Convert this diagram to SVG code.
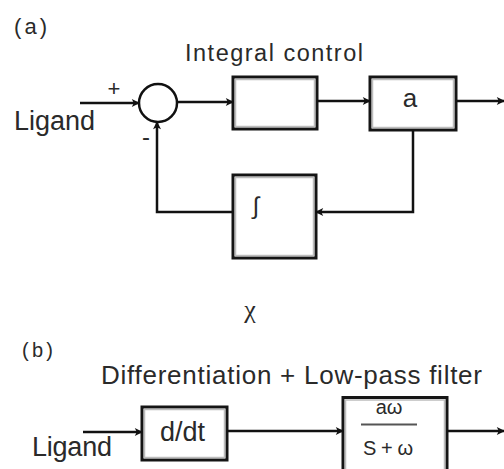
<svg xmlns="http://www.w3.org/2000/svg" width="504" height="469" viewBox="0 0 504 469">
<style>
text{font-family:"Liberation Sans",Arial,sans-serif;fill:#2a2a2a}
.box{fill:#fff;stroke:#151515;stroke-width:3}
.inner{fill:none;stroke:#bdbdbd;stroke-width:1.5}
.ln{fill:none;stroke:#111;stroke-width:2.5}
</style>
<defs>
<marker id="ah" viewBox="0 0 10 10" refX="9" refY="5" markerWidth="9" markerHeight="8" markerUnits="userSpaceOnUse" orient="auto">
<path d="M0,0 L10,5 L0,10 L2.5,5 z" fill="#111"/>
</marker>
</defs>
<rect width="504" height="469" fill="#fff"/>
<text x="14" y="34" font-size="22" textLength="33" lengthAdjust="spacing">(a)</text>
<text x="185" y="61" font-size="23.5" textLength="178" lengthAdjust="spacing">Integral control</text>
<text x="14" y="130" font-size="27" textLength="81" lengthAdjust="spacing">Ligand</text>
<text x="114" y="96" font-size="22" text-anchor="middle">+</text>
<text x="146" y="145" font-size="24" text-anchor="middle">-</text>
<g id="sum"><circle cx="158" cy="103" r="19" fill="#fff" stroke="#111" stroke-width="2.5"/></g>
<g id="box1"><rect class="box" x="233" y="77" width="84" height="52"/><rect class="inner" x="235.5" y="79.5" width="79" height="47"/></g>
<g id="boxa"><rect class="box" x="370" y="77" width="86" height="53"/><rect class="inner" x="372.5" y="79.5" width="81" height="48"/><text x="410" y="107" font-size="26" text-anchor="middle">a</text></g>
<g id="boxint"><rect class="box" x="233" y="175" width="83" height="83"/><rect class="inner" x="235.5" y="177.5" width="78" height="78"/><text x="256" y="214" font-size="24" text-anchor="middle" font-family="DejaVu Sans,sans-serif">∫</text></g>
<text x="250" y="318" font-size="26" text-anchor="middle" style="font-family:'Liberation Serif','Times New Roman',serif">χ</text>
<text x="22" y="357" font-size="20" textLength="31" lengthAdjust="spacing">(b)</text>
<text x="101" y="384" font-size="26" textLength="381" lengthAdjust="spacing">Differentiation + Low-pass filter</text>
<text x="32" y="456" font-size="27" textLength="80" lengthAdjust="spacing">Ligand</text>
<g id="ddt"><rect class="box" x="142" y="407" width="85" height="53"/><rect class="inner" x="144.5" y="409.5" width="80" height="48"/><text x="160" y="441" font-size="27" textLength="45" lengthAdjust="spacing">d/dt</text></g>
<g id="filter"><path d="M343,469 V397.5 H447 V469" fill="#fff" stroke="#151515" stroke-width="3"/><path d="M345.5,469 V400 H444.5 V469" fill="none" stroke="#bdbdbd" stroke-width="1.5"/>
<text x="389" y="414" font-size="20" text-anchor="middle">aω</text>
<line x1="361" y1="424.5" x2="417" y2="424.5" stroke="#555" stroke-width="2"/>
<text x="363" y="455" font-size="20" textLength="50" lengthAdjust="spacing">S + ω</text></g>
<g id="connectors">
<line class="ln" x1="80" y1="103" x2="139" y2="103" marker-end="url(#ah)"/>
<line class="ln" x1="177" y1="102" x2="233" y2="102" marker-end="url(#ah)"/>
<line class="ln" x1="317" y1="101" x2="370" y2="101" marker-end="url(#ah)"/>
<line class="ln" x1="456" y1="101" x2="504" y2="101" marker-end="url(#ah)"/>
<polyline class="ln" points="413,130 413,212 316,212" marker-end="url(#ah)"/>
<polyline class="ln" points="233,212 157,212 157,122" marker-end="url(#ah)"/>
<line class="ln" x1="83" y1="432" x2="142" y2="432" marker-end="url(#ah)"/>
<line class="ln" x1="227" y1="431" x2="343" y2="431" marker-end="url(#ah)"/>
<line class="ln" x1="447" y1="431" x2="504" y2="431" marker-end="url(#ah)"/>
</g>
</svg>
